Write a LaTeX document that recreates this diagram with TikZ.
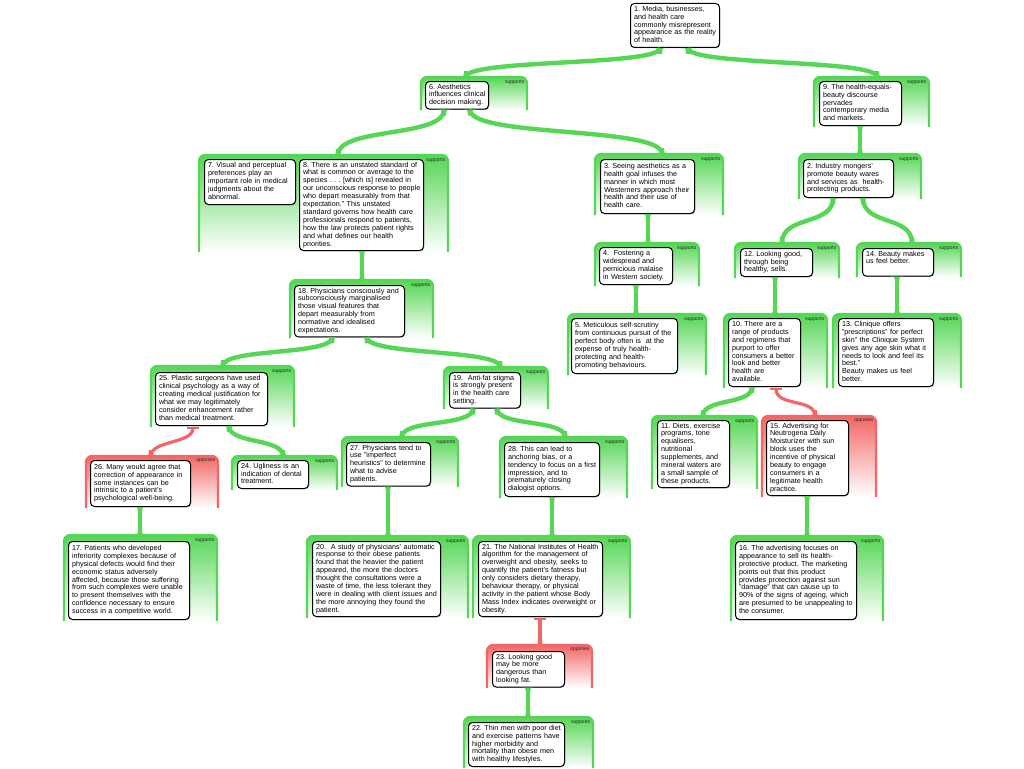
\documentclass[tikz,border=0pt]{standalone}
\usepackage{fontspec}
\setmainfont{Liberation Sans}
\usetikzlibrary{calc,shadows}
\definecolor{G}{RGB}{85,214,85}
\definecolor{R}{RGB}{244,102,102}
\newcommand{\boxfont}{\fontsize{7.2}{7.9}\selectfont\frenchspacing}
\newcommand{\labfont}{\fontsize{5}{6}\selectfont}
\newcommand{\tb}[1]{\begin{tabular}[t]{@{}l@{}}#1\end{tabular}}
\tikzset{
  argframe/.style={rectangle, rounded corners=6pt, anchor=north west, inner sep=0pt, outer sep=0pt, draw=none},
  frameline/.style={line width=2.2pt, rounded corners=6pt},
  slabel/.style={font=\labfont, inner sep=0pt, text=black!85},
  claim/.style={draw=black, line width=1pt, fill=white, rounded corners=4pt, inner xsep=3.5pt, inner ysep=2pt, anchor=north west, font=\boxfont,
    drop shadow={shadow xshift=0.7pt, shadow yshift=-0.7pt, fill=black!60, opacity=0.6}},
  gband/.style={draw=G, line width=4.4pt},
  rband/.style={draw=R, line width=3.2pt},
}
% frame: name, colour, x1, y1, x2, y2, label
\newcommand{\frm}[7]{%
  \pgfmathsetmacro{\fw}{#5-#3}\pgfmathsetmacro{\fh}{#6-#4}%
  \node[argframe, top color=#2, bottom color=white, minimum width=\fw pt, minimum height=\fh pt] (#1) at (#3,#4) {};
  \draw[frameline, #2] (#1.south west) -- (#1.north west) -- (#1.north east) -- (#1.south east);
  \node[slabel, anchor=north east] (#1lab) at ($(#1.north east)+(-2.5,3)$) {#7};}
% claim box: name, x, y, text width, height, text
\newcommand{\bx}[6]{\node[claim, text width=#4pt, minimum height=#5pt] (#1) at (#2,#3) {\tb{#6}};}
\newcommand{\flareD}[2]{\fill[#2] ($(#1)+(-7,0)$) .. controls ($(#1)+(-2.2,0)$) .. ($(#1)+(-2.2,6)$) -- ($(#1)+(2.2,6)$) .. controls ($(#1)+(2.2,0)$) .. ($(#1)+(7,0)$) -- cycle;}
\newcommand{\flareU}[2]{\fill[#2] ($(#1)+(-7,0)$) .. controls ($(#1)+(-2.2,0)$) .. ($(#1)+(-2.2,-6)$) -- ($(#1)+(2.2,-6)$) .. controls ($(#1)+(2.2,0)$) .. ($(#1)+(7,0)$) -- cycle;}
% supports connector: from box, x, to frame, x, control length
\newcommand{\gcurve}[5]{%
  \coordinate (tmpA) at (#2,0 |- #1.south);
  \coordinate (tmpB) at (#4,0 |- #3.north);
  \draw[gband] (tmpA) .. controls ($(tmpA)+(0,#5)$) and ($(tmpB)+(0,-#5)$) .. (tmpB);
  \flareD{tmpA}{G}\flareU{tmpB}{G}}
% opposes connector: to box, x, from frame, x, control length
\newcommand{\rcurve}[5]{%
  \coordinate (tmpA) at (#2,0 |- #1.south);
  \coordinate (tmpT) at ($(tmpA)+(0,2)$);
  \coordinate (tmpB) at (#4,0 |- #3.north);
  \draw[rband] (tmpT) .. controls ($(tmpT)+(0,#5)$) and ($(tmpB)+(0,-#5)$) .. (tmpB);
  \draw[R, line width=1.8pt] ($(tmpT)+(-6,0)$) -- ($(tmpT)+(6,0)$);
  \flareU{tmpB}{R}}
\begin{document}
\begin{tikzpicture}[x=1pt, y=-1pt]
\useasboundingbox (0,0) rectangle (1024,768);
% frames
\frm{F6}{G}{421}{77}{527}{110}{supports}
\frm{F9}{G}{814}{77}{929}{127}{supports}
\frm{F78}{G}{199}{155}{448}{252}{supports}
\frm{F3}{G}{595}{154}{723}{215}{supports}
\frm{F2}{G}{799}{154}{921}{199}{supports}
\frm{F4}{G}{595}{243}{699}{286}{supports}
\frm{F12}{G}{735}{243}{839}{278}{supports}
\frm{F14}{G}{857}{243}{961}{277}{supports}
\frm{F5}{G}{568}{314}{706}{375}{supports}
\frm{F10}{G}{724}{314}{827}{388}{supports}
\frm{F13}{G}{833}{314}{961}{388}{supports}
\frm{F18}{G}{290}{280}{433}{338}{supports}
\frm{F25}{G}{151}{366}{294}{427}{supports}
\frm{F19}{G}{444}{367}{548}{409}{supports}
\frm{F26}{R}{86}{456}{218}{508}{opposes}
\frm{F24}{G}{232}{456}{337}{490}{supports}
\frm{F27}{G}{342}{437}{458}{487}{supports}
\frm{F28}{G}{500}{437}{627}{498}{supports}
\frm{F11}{G}{652}{416}{757}{489}{supports}
\frm{F15}{R}{762}{416}{876}{497}{opposes}
\frm{F17}{G}{64}{535}{217}{621}{supports}
\frm{F20}{G}{307}{536}{468}{618}{supports}
\frm{F21}{G}{473}{536}{630}{618}{supports}
\frm{F16}{G}{731}{536}{883}{621}{supports}
\frm{F23}{R}{487}{645}{592}{688}{opposes}
\frm{F22}{G}{464}{717}{593}{768}{supports}
% boxes
\bx{b1}{630}{3}{82}{44}{1. Media, businesses,\\and health care\\commonly misrepresent\\appearance as the reality\\of health.}
\bx{b6}{425}{81}{56}{27}{6. Aesthetics\\influences clinical\\decision making.}
\bx{b9}{819}{81}{75}{44}{9. The health-equals-\\beauty discourse\\pervades\\contemporary media\\and markets.}
\bx{b7}{204}{159}{84}{45}{7. Visual and perceptual\\preferences play an\\important role in medical\\judgments about the\\abnormal.}
\bx{b8}{299}{159}{117}{91}{8. There is an unstated standard of\\what is common or average to the\\species . . . [which is] revealed in\\our unconscious response to people\\who depart measurably from that\\expectation." This unstated\\standard governs how health care\\professionals respond to patients,\\how the law protects patient rights\\and what defines our health\\priorities.}
\bx{b3}{600}{159}{87}{54}{3. Seeing aesthetics as a\\health goal infuses the\\manner in which most\\Westerners approach their\\health and their use of\\health care.}
\bx{b2}{803}{159}{83}{38}{2. Industry mongers'\\promote beauty wares\\and services as\ \ health-\\protecting products.}
\bx{b4}{599}{247}{66}{37}{4.\ \ Fostering a\\widespread and\\pernicious malaise\\in Western society.}
\bx{b12}{740}{248}{65}{28}{12. Looking good,\\through being\\healthy, sells.}
\bx{b14}{862}{248}{64}{27}{14. Beauty makes\\us feel better.\\~}
\bx{b5}{571}{318}{99}{55}{5. Meticulous self-scrutiny\\from continuous pursuit of the\\perfect body often is\ \ at the\\expense of truly health-\\protecting and health-\\promoting behaviours.}
\bx{b10}{728}{318}{65}{68}{10. There are a\\range of products\\and regimens that\\purport to offer\\consumers a better\\look and better\\health are\\available.}
\bx{b13}{838}{318}{88}{68}{13. Clinique offers\\"prescriptions" for perfect\\skin" the Clinique System\\gives any age skin what it\\needs to look and feel its\\best."\\Beauty makes us feel\\better.}
\bx{b18}{294}{285}{103}{51}{18. Physicians consciously and\\subconsciously marginalised\\those visual features that\\depart measurably from\\normative and idealised\\expectations.}
\bx{b25}{155}{372}{105}{53}{25. Plastic surgeons have used\\clinical psychology as a way of\\creating medical justification for\\what we may legitimately\\consider enhancement rather\\than medical treatment.}
\bx{b19}{449}{372}{64}{35}{19.\ \ Anti-fat stigma\\is strongly present\\in the health care\\setting.}
\bx{b26}{90}{460}{93}{46}{26. Many would agree that\\correction of appearance in\\some instances can be\\intrinsic to a patient's\\psychological well-being.}
\bx{b24}{237}{460}{64}{28}{24. Ugliness is an\\indication of dental\\treatment.}
\bx{b27}{346}{442}{77}{43}{27. Physicians tend to\\use "imperfect\\heuristics" to determine\\what to advise\\patients.}
\bx{b28}{504}{442}{88}{54}{28. This can lead to\\anchoring bias, or a\\tendency to focus on a first\\impression, and to\\prematurely closing\\dialogist options.}
\bx{b11}{657}{420}{65}{67}{11. Diets, exercise\\programs, tone\\equalisers,\\nutritional\\supplements, and\\mineral waters are\\a small sample of\\these products.}
\bx{b15}{766}{420}{75}{75}{15. Advertising for\\Neutrogena Daily\\Moisturizer with sun\\block uses the\\incentive of physical\\beauty to engage\\consumers in a\\legitimate health\\practice.}
\bx{b17}{68}{541}{114}{78}{17. Patients who developed\\inferiority complexes because of\\physical defects would find their\\economic status adversely\\affected, because those suffering\\from such complexes were unable\\to present themselves with the\\confidence necessary to ensure\\success in a competitive world.}
\bx{b20}{312}{541}{121}{75}{20.\ \ A study of physicians' automatic\\response to their obese patients\\found that the heavier the patient\\appeared, the more the doctors\\thought the consultations were a\\waste of time, the less tolerant they\\were in dealing with client issues and\\the more annoying they found the\\patient.}
\bx{b21}{478}{541}{117}{75}{21. The National Institutes of Health\\algorithm for the management of\\overweight and obesity, seeks to\\quantify the patient's fatness but\\only considers dietary therapy,\\behaviour therapy, or physical\\activity in the patient whose Body\\Mass Index indicates overweight or\\obesity.}
\bx{b16}{735}{541}{114}{78}{16. The advertising focuses on\\appearance to sell its health-\\protective product. The marketing\\points out that this product\\provides protection against sun\\"damage" that can cause up to\\90\% of the signs of ageing, which\\are presumed to be unappealing to\\the consumer.}
\bx{b23}{492}{651}{65}{35}{23. Looking good\\may be more\\dangerous than\\looking fat.}
\bx{b22}{468}{722}{89}{44}{22. Thin men with poor diet\\and exercise patterns have\\higher morbidity and\\mortality than obese men\\with healthy lifestyles.}
% connectors
\gcurve{b1}{660}{F6}{466}{18}
\gcurve{b1}{688}{F9}{877}{18}
\gcurve{b6}{444}{F78}{338}{28}
\gcurve{b6}{470}{F3}{662}{28}
\gcurve{b9}{860}{F2}{860}{10}
\gcurve{b8}{362}{F18}{362}{10}
\gcurve{b3}{648}{F4}{648}{10}
\gcurve{b4}{636}{F5}{636}{10}
\gcurve{b2}{833}{F12}{782}{28}
\gcurve{b2}{863}{F14}{912}{28}
\gcurve{b12}{775}{F10}{775}{10}
\gcurve{b14}{897}{F13}{897}{10}
\gcurve{b18}{332}{F25}{223}{18}
\gcurve{b18}{367}{F19}{500}{18}
\gcurve{b25}{229}{F24}{283}{18}
\rcurve{b25}{193}{F26}{151}{16}
\gcurve{b26}{140}{F17}{140}{10}
\gcurve{b19}{473}{F27}{402}{18}
\gcurve{b19}{497}{F28}{565}{18}
\gcurve{b27}{388}{F20}{388}{10}
\gcurve{b28}{552}{F21}{552}{10}
\rcurve{b21}{540}{F23}{540}{10}
\gcurve{b23}{528}{F22}{528}{10}
\gcurve{b10}{752}{F11}{703}{18}
\rcurve{b10}{776}{F15}{815}{18}
\gcurve{b15}{807}{F16}{807}{10}
\end{tikzpicture}
\end{document}
